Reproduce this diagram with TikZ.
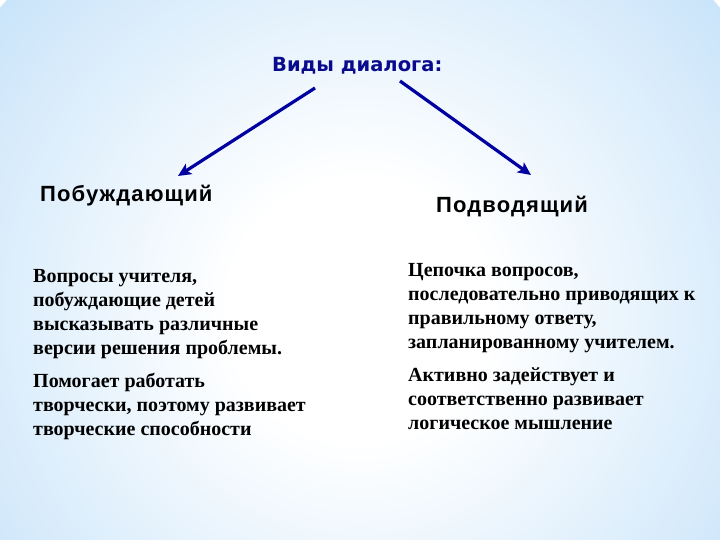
\documentclass[tikz,border=0pt]{standalone}
\usepackage{fontspec}
\setmainfont{Liberation Serif}
\newfontfamily\titlefont{DejaVu Sans}
\newfontfamily\headfont[LetterSpace=5,BoldFont={Liberation Sans Bold}]{Liberation Sans}
\usetikzlibrary{arrows.meta}
\definecolor{bgblue}{RGB}{150,200,242}
\definecolor{bgmid}{RGB}{205,230,250}
\definecolor{titleblue}{RGB}{10,10,140}
\definecolor{arrowblue}{RGB}{0,0,160}
\pgfdeclareradialshading{bgshade}{\pgfpoint{0bp}{0bp}}{color(0bp)=(white); color(7bp)=(white); color(24bp)=(bgmid); color(40bp)=(bgblue); color(50bp)=(bgblue)}
\tikzset{
  titletext/.style={anchor=base west, inner sep=0pt, text=titleblue, font=\titlefont\bfseries\fontsize{19.5}{23}\selectfont},
  headtext/.style={anchor=base west, inner sep=0pt, text=black, font=\headfont\bfseries\fontsize{22}{26}\selectfont},
  bodytext/.style={anchor=base west, inner sep=0pt, align=left, text=black, font=\bfseries\fontsize{20}{24}\selectfont},
  conn/.style={draw=arrowblue, line width=3.2pt, -{Stealth[length=13pt,width=12pt,inset=3pt]}}
}
\begin{document}
\begin{tikzpicture}[x=1pt,y=-1pt]
\useasboundingbox (0,0) rectangle (720,540);
\begin{scope}
\clip (0,0) rectangle (720,540);
\shade[shading=bgshade] (360,310) circle[radius=470pt];
\end{scope}
\node[titletext] (title) at (272,72) {Виды диалога:};
\node[headtext] (h1) at (40,202) {Побуждающий};
\node[headtext] (h2) at (436,212) {Подводящий};
% base anchor of a multi-line node is the baseline of its last line
\node[bodytext] (l1) at (33,354) {Вопросы учителя,\\побуждающие детей\\высказывать различные\\версии решения проблемы.};
\node[bodytext] (l2) at (33,435) {Помогает работать\\творчески, поэтому развивает\\творческие способности};
\node[bodytext] (r1) at (408,348) {Цепочка вопросов,\\последовательно приводящих к\\правильному ответу,\\запланированному учителем.};
\node[bodytext] (r2) at (408,429) {Активно задействует и\\соответственно развивает\\логическое мышление};
\coordinate (ls) at (315,88);
\coordinate (le) at (178,176);
\coordinate (rs) at (400,81);
\coordinate (re) at (531,175);
\draw[conn] (ls) -- (le);
\draw[conn] (rs) -- (re);
\end{tikzpicture}
\end{document}
